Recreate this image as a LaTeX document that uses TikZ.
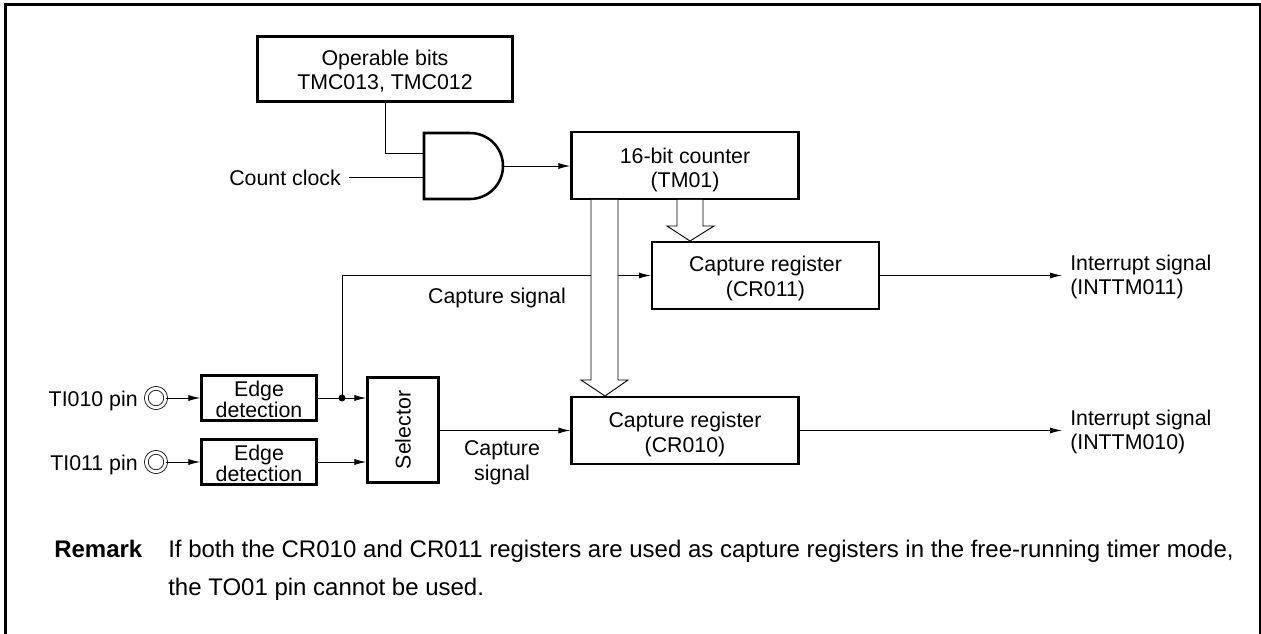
\documentclass[tikz,border=0pt]{standalone}
\usepackage{fontspec}
\setmainfont{Liberation Sans}
\usetikzlibrary{positioning, arrows.meta}
\newcommand{\drop}[1]{\rule{0pt}{#1pt}}
\tikzset{
	regbox/.style={draw, line width=1.9pt, align=center, inner sep=0pt, font=\fontsize{16}{18.5}\selectfont},
	lbl/.style={align=center, inner sep=0pt, font=\fontsize{16}{18.5}\selectfont},
	rem/.style={inner sep=0pt, font=\fontsize{18}{20}\selectfont},
	tight/.style={font=\fontsize{16}{16}\selectfont},
	sig/.style={line width=0.7pt},
	pin/.style={draw, circle, double, double distance=2.2pt, line width=0.6pt, minimum size=14.5pt, inner sep=0pt},
	bus/.style={line width=0.7pt, fill=white},
}
\begin{document}
\begin{tikzpicture}[x=0.75pt, y=-0.75pt, >={Latex[length=9pt, width=4.5pt]}]
	\useasboundingbox (0,0) rectangle (1261,634);
	\draw[line width=2.25pt] (5.5,4.5) rectangle (1260,640);
	% boxes
	\node[regbox, minimum width=191pt, minimum height=49pt] (bits) at (385,69) {\drop{14.6}Operable bits\\TMC013, TMC012};
	\node[regbox, minimum width=170pt, minimum height=50pt] (counter) at (685,165.5) {\drop{18.4}16-bit counter\\(TM01)};
	\node[regbox, minimum width=170pt, minimum height=50pt] (crone) at (765.5,275.5) {\drop{16}Capture register\\(CR011)};
	\node[regbox, minimum width=170pt, minimum height=50pt] (crzero) at (685,430.5) {\drop{17.5}Capture register\\(CR010)};
	\node[regbox, tight, minimum width=86pt, minimum height=34pt] (edgea) at (259,398) {\drop{14}Edge\\detection};
	\node[regbox, tight, minimum width=86pt, minimum height=34pt] (edgeb) at (259,462) {\drop{14}Edge\\detection};
	\node[regbox, minimum width=53pt, minimum height=79pt] (sel) at (403,430) {\rotatebox{90}{Selector}};
	% AND gate
	\draw[line width=1.9pt] (424,133) -- (470,133) arc[start angle=-90, end angle=90, radius=33] -- (424,199) -- cycle;
	\coordinate (gatein) at (424,153);
	\coordinate (gateclk) at (424,177);
	\coordinate (gateout) at (503,166);
	% pins
	\node[pin] (pina) at (156,398) {};
	\node[pin] (pinb) at (156,462) {};
	\node[lbl, left=6pt of pina, yshift=-2pt] (pinatext) {TI010 pin};
	\node[lbl, left=6pt of pinb, yshift=-2pt] (pinbtext) {TI011 pin};
	% labels
	\node[lbl, anchor=east] (clktext) at (341,178) {Count clock};
	\node[lbl, align=left, anchor=west] (intone) at (1070,277) {Interrupt signal\\(INTTM011)};
	\node[lbl, align=left, anchor=west] (intzero) at (1070,432) {Interrupt signal\\(INTTM010)};
	\node[lbl] (capa) at (497,298) {Capture signal};
	\node[lbl] (capb) at (502,463) {Capture\\signal};
	% signals
	\draw[sig] (bits.south -| 385,0) |- (gatein);
	\draw[sig] (349,177) coordinate (clkstart) -- (gateclk);
	\draw[sig, ->] (gateout) -- (gateout -| counter.west);
	\draw[sig, ->] (pina) -- (edgea.west);
	\draw[sig, ->] (pinb) -- (edgeb.west);
	\draw[sig, ->] (edgea.east) -- (sel.west |- edgea.east);
	\draw[sig, ->] (edgeb.east) -- (sel.west |- edgeb.east);
	\draw[sig, ->] (sel.east |- crzero.west) -- (crzero.west);
	\draw[sig, ->] (crone.east) -- (1062,275.5) coordinate (intonetip);
	\draw[sig, ->] (crzero.east) -- (1062,430.5) coordinate (intzerotip);
	\coordinate (tap) at (342,398);
	\fill (tap) circle (3.5);
	\draw[sig] (tap) |- (591,275.5);
	\draw[sig, ->] (618,275.5) -- (crone.west);
	% bus arrows
	\draw[bus] (591,200) -- (591,380) -- (581,380) -- (605,396) -- (628,380) -- (618,380) -- (618,200);
	\draw[bus] (677,200) -- (677,226) -- (667,226) -- (690,241) -- (714,226) -- (703,226) -- (703,200);
	% remark
	\node[rem, anchor=base west, font=\fontsize{18}{20}\selectfont\bfseries] (remark) at (54,557) {Remark};
	\node[rem, anchor=base west] (rone) at (168,557) {If both the CR010 and CR011 registers are used as capture registers in the free-running timer mode,};
	\node[rem, anchor=base west] (rtwo) at (168,595) {the TO01 pin cannot be used.};
\end{tikzpicture}
\end{document}
